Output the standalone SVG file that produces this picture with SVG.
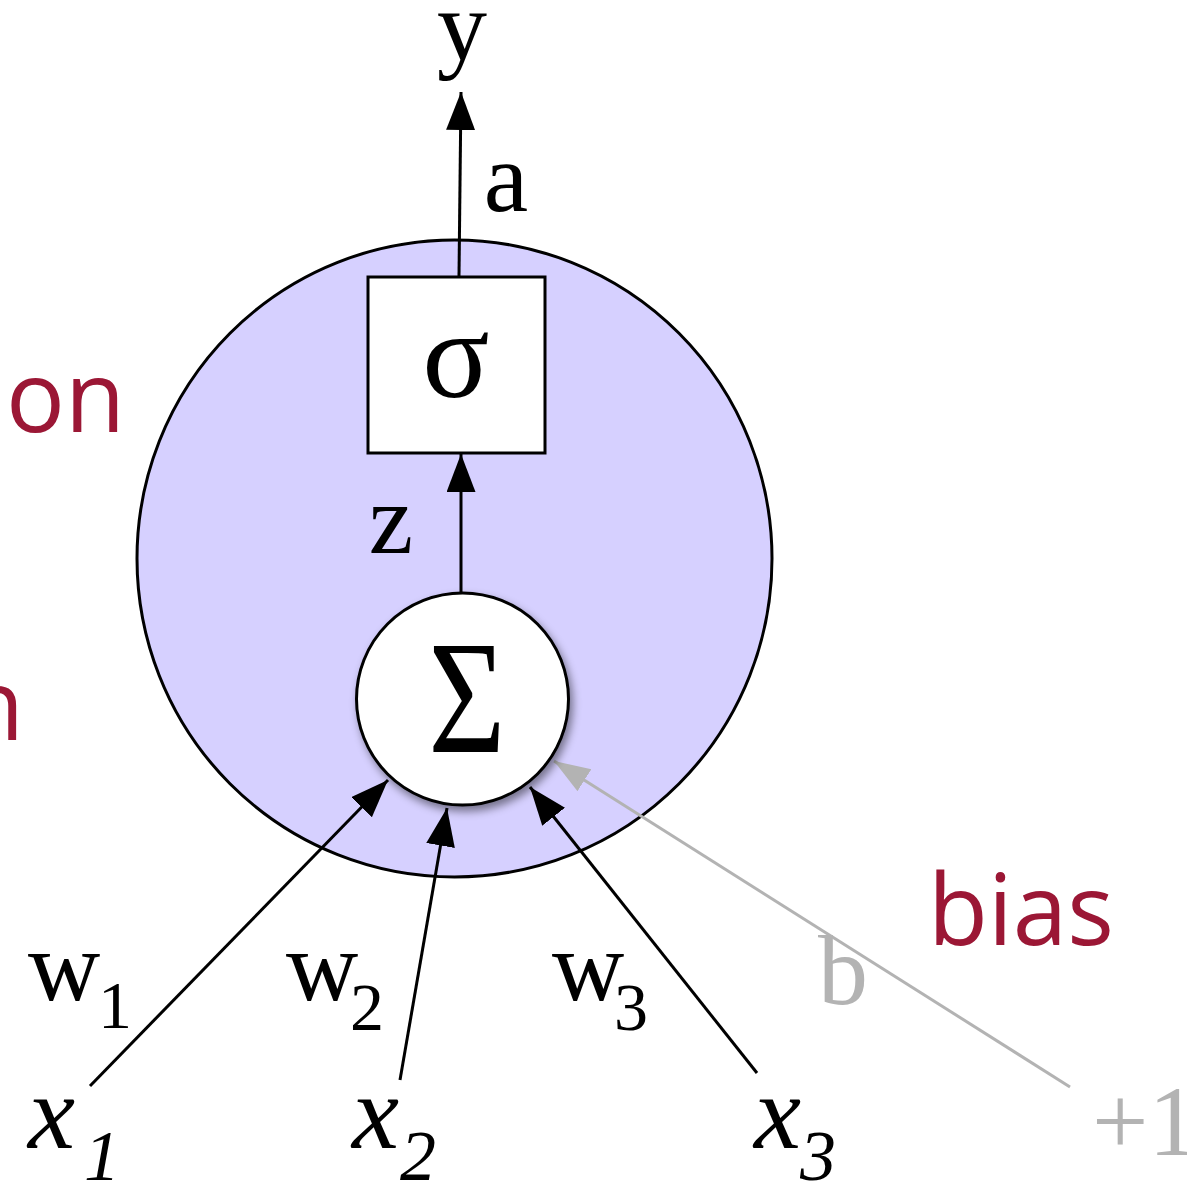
<svg xmlns="http://www.w3.org/2000/svg" width="1187" height="1184" viewBox="0 0 1187 1184">
<style>
.serif{font-family:"Liberation Serif","Times New Roman",serif;}
.lbl{font-family:"Liberation Serif",serif;font-size:100px;fill:#000;}
.sub{font-family:"Liberation Serif",serif;font-size:68px;fill:#000;}
.it{font-family:"Liberation Serif","Times New Roman",serif;font-style:italic;fill:#000;}
.red{font-family:"Open Sans","DejaVu Sans",sans-serif;font-size:98px;fill:#9b1735;}
.gray{fill:#b3b3b3;}
.edge{stroke:#000;stroke-width:3;fill:none;}
.gedge{stroke:#b3b3b3;stroke-width:3;fill:none;}
</style>
<defs>
<marker id="ah" markerUnits="userSpaceOnUse" markerWidth="40" markerHeight="30" refX="38" refY="14.5" orient="auto">
<path d="M0,0 L38,14.5 L0,29 z" fill="#000"/>
</marker>
<marker id="ahg" markerUnits="userSpaceOnUse" markerWidth="40" markerHeight="30" refX="36" refY="13" orient="auto">
<path d="M0,0 L36,13 L0,26 z" fill="#b3b3b3"/>
</marker>
<filter id="sh" x="-20%" y="-20%" width="150%" height="150%">
<feDropShadow dx="3" dy="5" stdDeviation="4" flood-color="#000" flood-opacity="0.45"/>
</filter>
</defs>
<rect width="1187" height="1184" fill="#fff"/>

<g id="neuron">
<ellipse cx="454.5" cy="558.5" rx="317.5" ry="318.5" fill="#d6d0ff" stroke="#000" stroke-width="3"/>
</g>

<g id="connectors">
<line class="edge" x1="459" y1="276" x2="461" y2="92" marker-end="url(#ah)"/>
<line class="edge" x1="461" y1="593" x2="461" y2="454" marker-end="url(#ah)"/>
<line class="edge" x1="90" y1="1086" x2="388" y2="780" marker-end="url(#ah)"/>
<line class="edge" x1="400" y1="1080" x2="447" y2="808" marker-end="url(#ah)"/>
<line class="edge" x1="757" y1="1073" x2="530" y2="787" marker-end="url(#ah)"/>
<line class="gedge" x1="1070" y1="1087" x2="554" y2="761" marker-end="url(#ahg)"/>
</g>

<g id="activation">
<rect x="368" y="277" width="177" height="176" fill="#fff" stroke="#000" stroke-width="3"/>
<text class="serif" x="456" y="397" font-size="125" text-anchor="middle">σ</text>
</g>

<g id="sum">
<circle cx="462.5" cy="699" r="106" fill="#fff" stroke="#000" stroke-width="3" filter="url(#sh)"/>
<text class="serif" transform="translate(467,752) scale(0.82,1)" font-size="162" text-anchor="middle">Σ</text>
</g>

<g id="labels">
<text class="lbl" x="462" y="60" text-anchor="middle">y</text>
<text class="lbl" x="506" y="211" text-anchor="middle">a</text>
<text class="lbl" x="391" y="553" text-anchor="middle">z</text>

<text class="lbl" x="28" y="1000">w</text><text class="sub" x="98" y="1028">1</text>
<text class="lbl" x="286" y="1000">w</text><text class="sub" x="350" y="1030">2</text>
<text class="lbl" x="552" y="1000">w</text><text class="sub" x="614" y="1030">3</text>

<text class="it" x="28" y="1148" font-size="106" font-family="Liberation Serif" font-style="italic">x</text><text class="it" x="84" y="1180" font-size="72" font-family="Liberation Serif" font-style="italic">1</text>
<text class="it" x="352" y="1148" font-size="106" font-family="Liberation Serif" font-style="italic">x</text><text class="it" x="400" y="1180" font-size="72" font-family="Liberation Serif" font-style="italic">2</text>
<text class="it" x="754" y="1148" font-size="106" font-family="Liberation Serif" font-style="italic">x</text><text class="it" x="800" y="1180" font-size="72" font-family="Liberation Serif" font-style="italic">3</text>

<text class="lbl gray" x="818" y="1004">b</text>
<text class="lbl gray" x="1092" y="1155">+1</text>

<text class="red" x="6" y="432">on</text>
<text class="red" x="24" y="740" text-anchor="end">n</text>
<text class="red" x="928" y="945">bias</text>
</g>
</svg>
